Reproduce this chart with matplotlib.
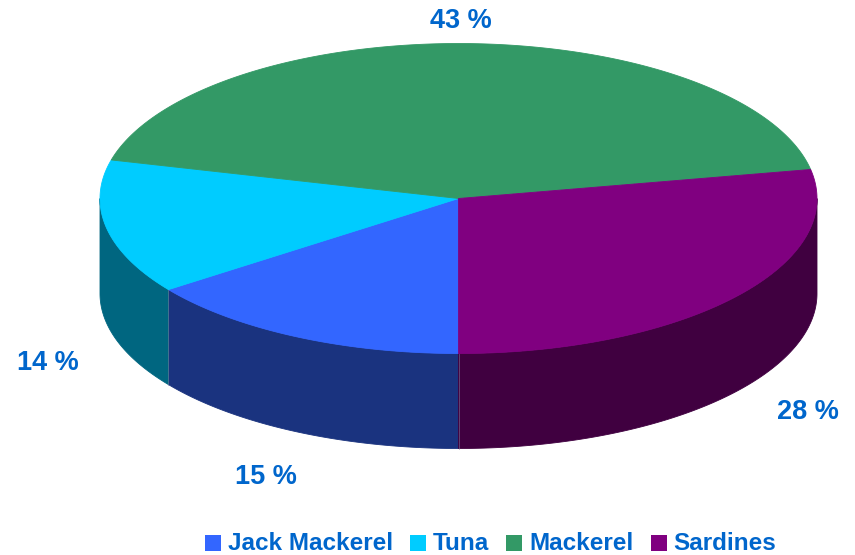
import numpy as np
import matplotlib
matplotlib.use('Agg')
import matplotlib.pyplot as plt
from matplotlib.patches import Polygon, Rectangle

plt.rcParams['font.family'] = ['Liberation Sans', 'DejaVu Sans']

# data (clockwise order starting at the bottom of the pie)
species = ['Jack Mackerel', 'Tuna', 'Mackerel', 'Sardines']
shares = [15, 14, 43, 28]
top_colors = ['#3366FF', '#00CCFF', '#339966', '#800080']
side_colors = ['#1A337F', '#006680', '#1A4C33', '#400040']
label_pos = [(265.5, 477), (48, 363), (461, 21), (808, 412)]

text_color = '#0066CC'

# pie geometry in pixels
cx, cy = 458.5, 198.5
rx, ry = 358.5, 155
depth = 95
start = 180.0  # degrees clockwise from top


def pt(theta, dy=0.0):
    t = np.radians(theta)
    return cx + rx * np.sin(t), cy - ry * np.cos(t) + dy


fig = plt.figure(figsize=(8.55, 5.55), dpi=100)
ax = fig.add_axes([0, 0, 1, 1])
ax.set_xlim(0, 855)
ax.set_ylim(555, 0)
ax.axis('off')

total = float(sum(shares))
bounds = []
a = start
for v in shares:
    b = a + 360.0 * v / total
    bounds.append((a, b))
    a = b

# side walls (front half only: 90..270 deg)
for (a, b), col in zip(bounds, side_colors):
    for lo_v, hi_v in [(90, 270), (450, 630)]:
        lo, hi = max(a, lo_v), min(b, hi_v)
        if hi <= lo:
            continue
        th = np.linspace(lo, hi, 200)
        top = np.array([pt(t) for t in th])
        bot = np.array([pt(t, depth) for t in th[::-1]])
        ax.add_patch(Polygon(np.vstack([top, bot]), closed=True,
                             facecolor=col, edgecolor=col, linewidth=0.6))

# seams between side walls
for a, b in bounds:
    t = a % 360
    if 90 < t < 270:
        x0, y0 = pt(t)
        ax.plot([x0, x0], [y0, y0 + depth], color='#8080a0', lw=0.6, alpha=0.6)

# top faces
for (a, b), col in zip(bounds, top_colors):
    th = np.linspace(a, b, 300)
    arc = np.array([pt(t) for t in th])
    poly = np.vstack([[cx, cy], arc])
    ax.add_patch(Polygon(poly, closed=True, facecolor=col,
                         edgecolor=col, linewidth=0.6))

# percentage labels
for v, (lx, ly) in zip(shares, label_pos):
    ax.text(lx, ly, f'{v} %', ha='center', va='center', fontsize=19.5,
            fontweight='bold', color=text_color)

# legend along the bottom
fig.canvas.draw()
renderer = fig.canvas.get_renderer()
x = 205
ly = 543
for name, col in zip(species, top_colors):
    ax.add_patch(Rectangle((x, ly - 8), 16, 16, facecolor=col, edgecolor='none'))
    t = ax.text(x + 23, ly, name, ha='left', va='center', fontsize=17.5,
                fontweight='bold', color=text_color)
    w = t.get_window_extent(renderer).width
    x = x + 23 + w + 17

fig.savefig('out.png', dpi=100)
